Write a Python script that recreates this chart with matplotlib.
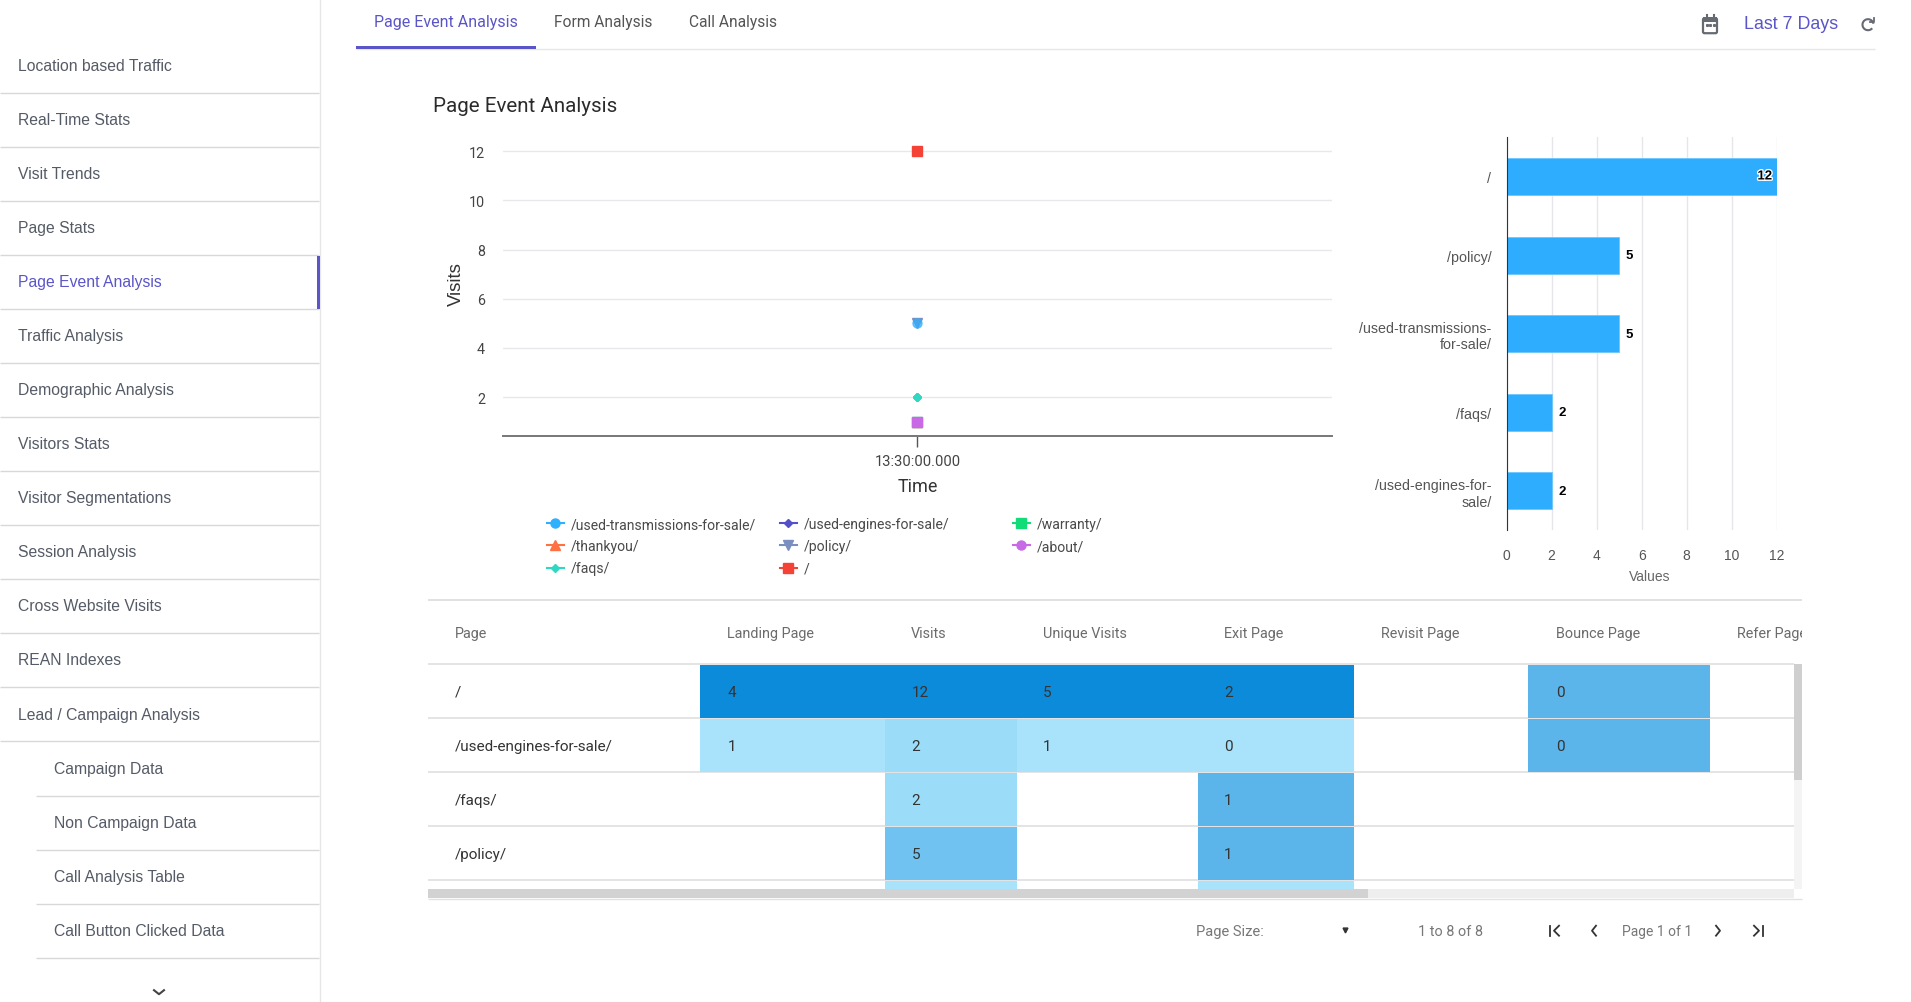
import matplotlib
matplotlib.use("Agg")
import matplotlib.pyplot as plt
from matplotlib.lines import Line2D
from matplotlib.patches import Rectangle, FancyBboxPatch, Arc
from matplotlib.transforms import Bbox, TransformedBbox
import matplotlib.patheffects as pe

W, H = 1911, 1003
DPI = 100
SHIFT = 1.2

# ---------- data ----------
menu_items = ["Location based Traffic", "Real-Time Stats", "Visit Trends", "Page Stats",
              "Page Event Analysis", "Traffic Analysis", "Demographic Analysis", "Visitors Stats",
              "Visitor Segmentations", "Session Analysis", "Cross Website Visits", "REAN Indexes",
              "Lead / Campaign Analysis"]
submenu_items = ["Campaign Data", "Non Campaign Data", "Call Analysis Table", "Call Button Clicked Data"]
tabs = ["Page Event Analysis", "Form Analysis", "Call Analysis"]

series_names = ["/used-transmissions-for-sale/", "/used-engines-for-sale/", "/warranty/", "/thankyou/",
                "/policy/", "/about/", "/faqs/", "/"]
series_values = [5, 2, 1, 1, 5, 1, 2, 12]
time_label = "13:30:00.000"
line_yticks = [2, 4, 6, 8, 10, 12]

bar_categories = ["/", "/policy/", "/used-transmissions-\nfor-sale/", "/faqs/", "/used-engines-for-\nsale/"]
bar_values = [12, 5, 5, 2, 2]
bar_xticks = [0, 2, 4, 6, 8, 10, 12]

table_headers = ["Page", "Landing Page", "Visits", "Unique Visits", "Exit Page", "Revisit Page",
                 "Bounce Page", "Refer Page"]
table_pages = ["/", "/used-engines-for-sale/", "/faqs/", "/policy/"]
table_landing = [4, 1, None, None]
table_visits = [12, 2, 2, 5]
table_unique = [5, 1, None, None]
table_exit = [2, 0, 1, 1]
table_bounce = [0, 0, None, None]

# ---------- styles ----------
series_colors = ["#2eb0ff", "#5450c8", "#12dc77", "#ff7043", "#7a8fc0", "#c86ae6", "#2ed8c3", "#f44336"]
legend_markers = ["o", "D", "s", "^", "v", "o", "D", "s"]
plot_markers = ["o", "D", "s", "^", "v", "s", "D", "s"]
series_msize = [6.5, 4.5, 6.5, 6.5, 6.5, 6.5, 4.5, 6.5]
series_z = [5, 3, 3, 3, 3, 4, 4, 3]
series_alpha = [0.7, 1, 1, 1, 1, 1, 1, 1]
ACCENT = "#5a55c8"
UI = "Roboto"
ARIAL = "Liberation Sans"

fig = plt.figure(figsize=(W / DPI, H / DPI), dpi=DPI, facecolor="white")


def axpx(l, t, r, b, **kw):
    return fig.add_axes([l / W, 1 - (b + SHIFT) / H, (r - l) / W, (b - t) / H], **kw)


ui = fig.add_axes([0, 0, 1, 1])
ui.set_xlim(0, W)
ui.set_ylim(H - SHIFT, -SHIFT)
ui.axis("off")


def hline(y, x0, x1, c="#dcdcdc", lw=1.0):
    ui.plot([x0, x1], [y, y], color=c, lw=lw, solid_capstyle="butt")


def rect(x0, y0, x1, y1, c, z=1):
    ui.add_patch(Rectangle((x0, y0), x1 - x0, y1 - y0, fc=c, ec="none", zorder=z))


# ---------- sidebar ----------
ROW = 54.07
LINE0 = 92.4
for i, name in enumerate(menu_items):
    yc = 65 + ROW * i
    ui.text(18, yc, name, fontsize=11.3, family=ARIAL, va="center",
            color=ACCENT if name == "Page Event Analysis" else "#555b66")
    hline(LINE0 + ROW * i, 0, 319, "#d8d8d8")
for j, name in enumerate(submenu_items):
    i = len(menu_items) + j
    ui.text(54, 65 + ROW * i, name, fontsize=11.3, family=ARIAL, va="center", color="#555b66")
    hline(LINE0 + ROW * i, 36, 319, "#d8d8d8")
ui.plot([320, 320], [-2, H], color="#e6e6e6", lw=1)
rect(317, 255.5, 319.5, 309, ACCENT, 3)
ui.plot([154, 159, 164], [990, 994, 990], color="#444444", lw=1.5)

# ---------- tabs ----------
for name, x, c, fs in zip(tabs, [374, 553.6, 689], [ACCENT, "#555555", "#555555"], [11.5, 11.2, 11.2]):
    ui.text(x, 21.5, name, fontsize=fs, family=UI, va="center", color=c)
hline(49, 356, 1875, "#e6e6ee")
rect(356, 46, 536, 49, ACCENT, 3)
ui.text(1744, 23, "Last 7 Days", fontsize=12.9, family=ARIAL, va="center", color=ACCENT)
ui.add_patch(FancyBboxPatch((1703, 18), 14, 15, boxstyle="round,pad=0,rounding_size=1.5",
                            fc="white", ec="#666a73", lw=1.6))
rect(1703, 17, 1717, 21.5, "#666a73", 3)
ui.plot([1706.5, 1706.5], [15, 18], color="#666a73", lw=1.5)
ui.plot([1713.5, 1713.5], [15, 18], color="#666a73", lw=1.5)
ui.plot([1706.5, 1710, 1713.5], [25, 25, 25], ls="none", marker="s", ms=1.2, color="#666a73")
ui.add_patch(Arc((1868, 24.5), 11, 11, theta1=-320, theta2=-10, color="#666a73", lw=1.5))
ui.plot([1869.5, 1874, 1874], [21.5, 21.5, 17.5], color="#666a73", lw=1.3)

ui.text(433, 105, "Page Event Analysis", fontsize=14.8, family=UI, va="center", color="#2b2b2b")

# ---------- line chart ----------
ax = axpx(503, 140, 1332, 435.5)
ax.patch.set_alpha(0)
for name, v, c, m, s, z, a in zip(series_names, series_values, series_colors, plot_markers,
                                  series_msize, series_z, series_alpha):
    ax.plot([0], [v], color=c, marker=m, ms=s, mec=c, ls="-", lw=1.5, label=name, zorder=z, alpha=a)
ax.set_xlim(-1, 1)
ax.set_ylim(0.435, 12.447)
ax.set_yticks(line_yticks)
ax.set_xticks([0], [time_label])
ax.grid(axis="y", color="#e8e8ec", lw=1)
ax.set_axisbelow(True)
for s in ["top", "left", "right"]:
    ax.spines[s].set_visible(False)
ax.spines["bottom"].set_color("#777777")
ax.spines["bottom"].set_linewidth(1.4)
ax.tick_params(axis="y", length=0, pad=13, labelsize=10.3, labelcolor="#444444")
ax.tick_params(axis="x", length=8, width=1, color="#555555", pad=5, labelsize=10.6, labelcolor="#444444")
for t in ax.get_xticklabels() + ax.get_yticklabels():
    t.set_family(UI)
ax.set_ylabel("Visits", fontsize=13.4, family=ARIAL, color="#333333", labelpad=0, va="center")
ax.yaxis.set_label_coords((456 - 503) / 829, (435.5 - 283) / 295.5)
ax.set_xlabel("Time", fontsize=13, family=UI, color="#333333")
ax.xaxis.set_label_coords(0.5, (435.5 - 486) / 295.5, transform=ax.transAxes)
ax.xaxis.label.set_va("center")

# legend: three uniform columns, filled row by row as in the page
legend_handles = {n: Line2D([], [], color=c, marker=m, ms=s, mec=c, lw=1.5)
                  for n, c, m, s in zip(series_names, series_colors, legend_markers, series_msize)}
columns = [(series_names[0::3], 546.5), (series_names[1::3], 779.5), (series_names[2::3], 1012.5)]
for names, x in columns:
    fig.legend([legend_handles[n] for n in names], names, loc="upper left",
               bbox_to_anchor=(x / W, 1 - (517 + SHIFT) / H), frameon=False,
               prop={"family": UI, "size": 10.1}, labelcolor="#4a4a4a",
               handlelength=1.25, handletextpad=0.5, labelspacing=0.58,
               borderpad=0, borderaxespad=0, markerscale=1)

# ---------- bar chart ----------
bx = axpx(1506.7, 137, 1776.6, 530)
bx.patch.set_alpha(0)
ypos = list(range(len(bar_values)))
bars = bx.barh(ypos, bar_values, height=0.47, color="#2eadff", edgecolor="#6cc6ff", lw=0.6, zorder=3)
bx.set_xlim(0, 12)
bx.set_ylim(len(bar_values) - 0.5, -0.5)
bx.set_yticks(ypos, bar_categories)
bx.set_xticks(bar_xticks)
bx.grid(axis="x", color="#e6e6ea", lw=1)
bx.set_axisbelow(True)
for s in ["top", "right", "bottom"]:
    bx.spines[s].set_visible(False)
bx.spines["left"].set_color("#333333")
bx.spines["left"].set_zorder(4)
bx.tick_params(axis="y", length=0, pad=11, labelsize=10.3, labelcolor="#555555")
bx.tick_params(axis="x", length=0, pad=13, labelsize=10, labelcolor="#555555")
for t in bx.get_xticklabels() + bx.get_yticklabels():
    t.set_family(ARIAL)
bx.set_xlabel("Values", fontsize=10, family=ARIAL, color="#666666", labelpad=5)
bx.xaxis.label.set_x((1650 - 1506.7) / 269.9)
for b, v in zip(bars, bar_values):
    inside = v == max(bar_values)
    bx.annotate(str(v), (v, b.get_y() + b.get_height() / 2),
                xytext=(-8.5 if inside else 7.5, 0), textcoords="offset points",
                ha="center", va="center", fontsize=9.5, fontweight="bold", family=ARIAL, color="black",
                path_effects=[pe.withStroke(linewidth=2, foreground="white")] if inside else None, zorder=5)

# ---------- table ----------
TL, TR = 427.6, 1802
hline(600, TL, TR, "#dcdcdc", 1.2)
header_x = [455, 727, 911, 1043, 1224, 1381, 1556, 1737]
clip_box = TransformedBbox(Bbox([[TL, 600], [TR, 898]]), ui.transData)
for name, x in zip(table_headers, header_x):
    t = ui.text(x, 633, name, fontsize=10.4, family=UI, va="center", color="#6b6b6b", clip_on=True)
    t.set_clip_box(clip_box)
row_lines = [664, 718, 772, 826, 880]
for y in row_lines:
    hline(y, TL, 1794, "#dfdfdf", 1.2)

DARK, PALE, SOFT, MID, STRONG = "#0d8bdb", "#a9e3fb", "#9bdcf9", "#5bb5ea", "#70c3f0"
col_spans = {"landing": (699.5, 885, 727.5), "visits": (885, 1017, 911.5), "unique": (1017, 1197.6, 1043),
             "exit": (1197.6, 1353.5, 1224), "bounce": (1528, 1710, 1556)}
col_values = {"landing": table_landing, "visits": table_visits, "unique": table_unique,
              "exit": table_exit, "bounce": table_bounce}
col_shades = {"landing": [DARK, PALE], "visits": [DARK, SOFT, SOFT, STRONG], "unique": [DARK, PALE],
              "exit": [DARK, PALE, MID, MID], "bounce": [MID, MID]}
row_centers = [691.5, 745.5, 799.5, 853.5]
for name, y in zip(table_pages, row_centers):
    ui.text(455, y, name, fontsize=11.0, family=UI, va="center", color="#333333")
for col, (x0, x1, xt) in col_spans.items():
    for r, v in enumerate(col_values[col]):
        if v is None:
            continue
        rect(x0, row_lines[r] + 1, x1, row_lines[r + 1] - 0.5, col_shades[col][r], 2)
        ui.text(xt, row_centers[r], str(v), fontsize=11.0, family=UI, va="center", color="#333333", zorder=4)
rect(885, 881, 1017, 889, PALE, 2)
rect(1197.6, 881, 1353.5, 889, PALE, 2)

rect(TL, 889, 1794, 898, "#eeeeee", 3)
rect(TL, 889, 1368, 898, "#d2d2d2", 4)
hline(898.5, TL, TR, "#e2e2e2")
rect(1794, 664, 1802, 889, "#f4f4f4", 3)
rect(1794, 664, 1802, 780, "#cfcfcf", 4)

# ---------- pager ----------
PG = "#777777"
PY = 930.5
ui.text(1196, PY, "Page Size:", fontsize=10.5, family=UI, va="center", color=PG)
ui.plot([1345], [PY - 1], marker="v", ms=3.5, color="#333333", ls="none")
ui.text(1418, PY, "1 to 8 of 8", fontsize=10.4, family=UI, va="center", color=PG)
ui.text(1622, PY, "Page 1 of 1", fontsize=10.0, family=UI, va="center", color=PG)
chev = dict(color="#333333", lw=1.3)
ui.plot([1550, 1550], [PY - 5, PY + 5], **chev)
ui.plot([1559, 1554, 1559], [PY - 5, PY, PY + 5], **chev)
ui.plot([1596, 1592, 1596], [PY - 5, PY, PY + 5], **chev)
ui.plot([1716, 1720, 1716], [PY - 5, PY, PY + 5], **chev)
ui.plot([1754, 1759, 1754], [PY - 5, PY, PY + 5], **chev)
ui.plot([1763, 1763], [PY - 5, PY + 5], **chev)

fig.savefig("out.png", dpi=DPI, facecolor="white")
